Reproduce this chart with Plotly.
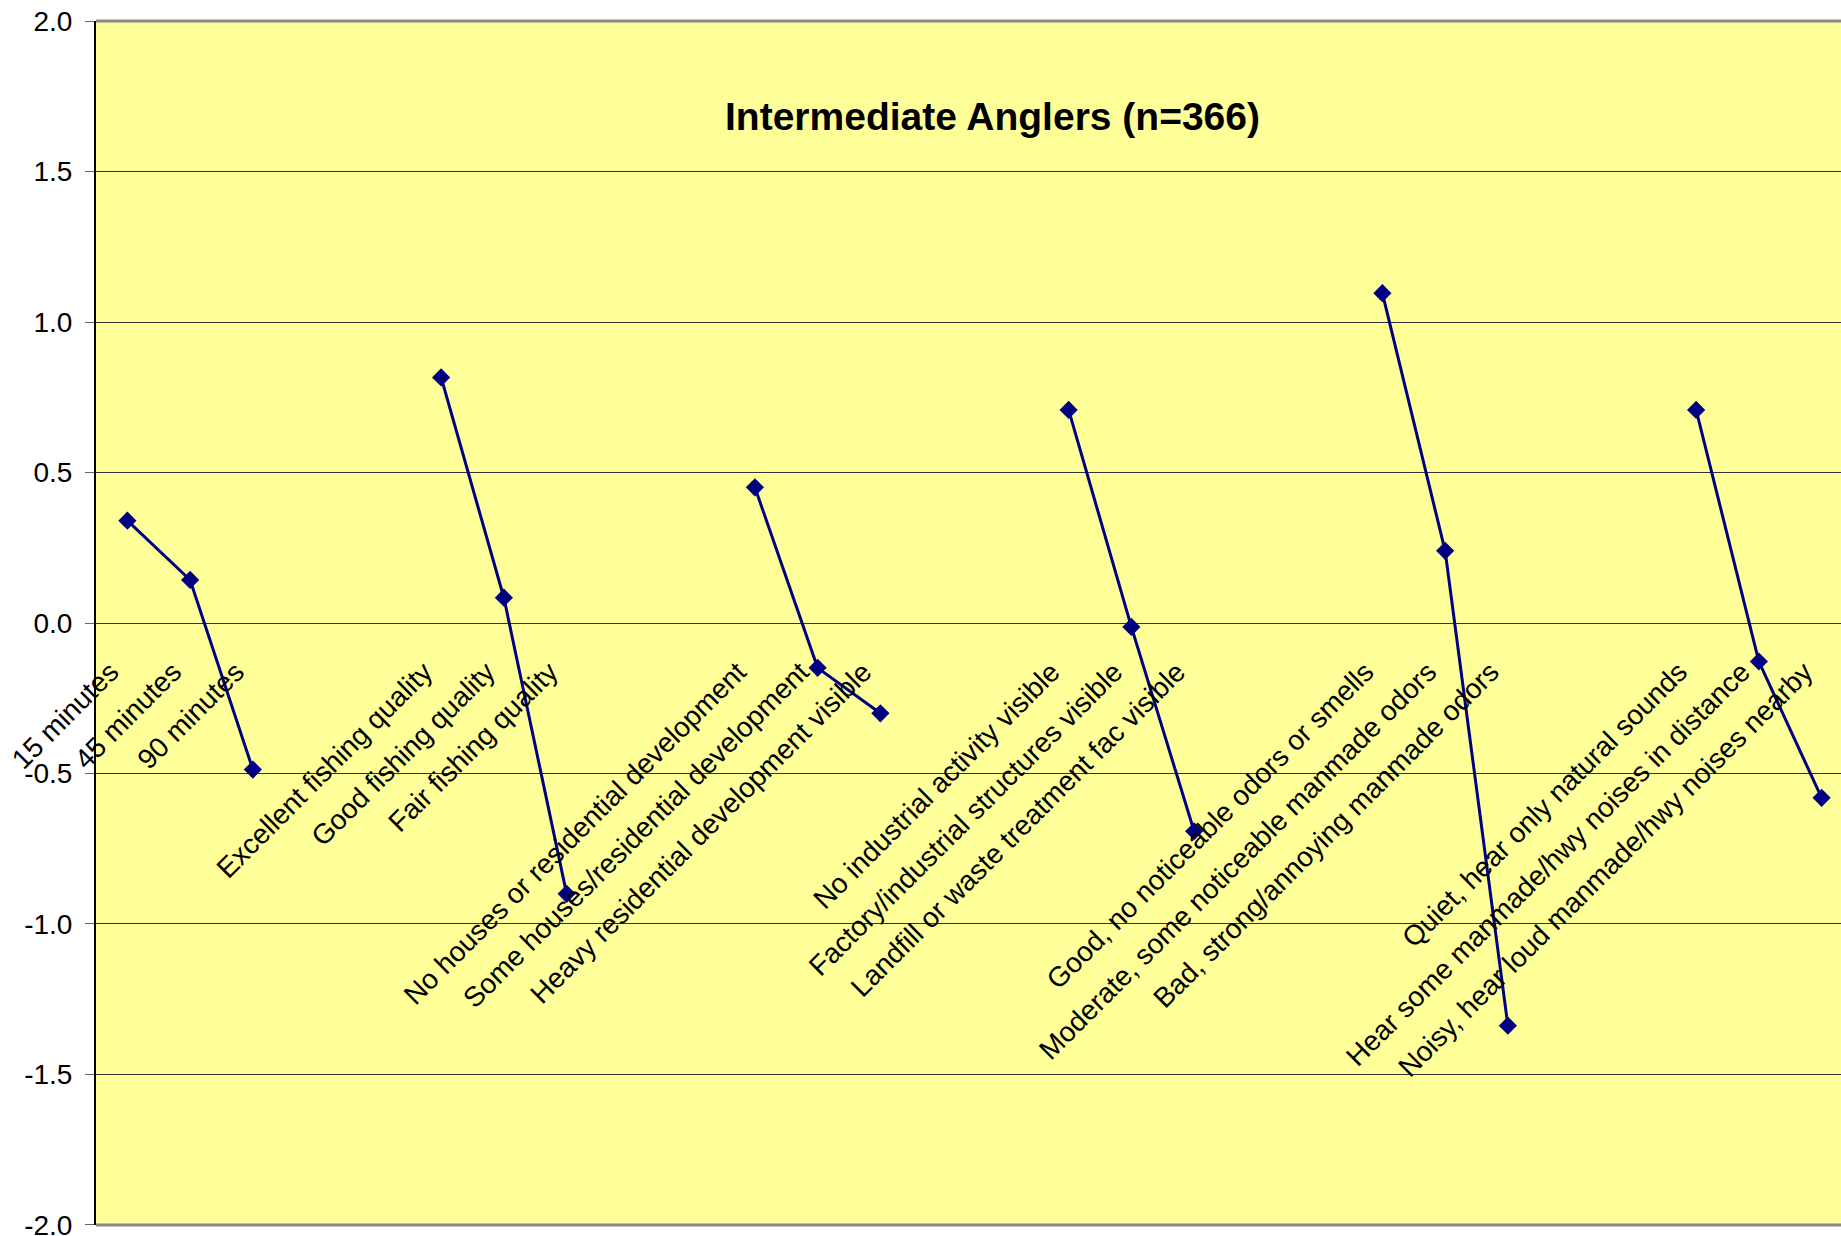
import plotly.graph_objects as go

# category labels along the x axis; None = empty slot between attribute groups
categories = [
    "15 minutes", "45 minutes", "90 minutes", None, None,
    "Excellent fishing quality", "Good fishing quality", "Fair fishing quality", None, None,
    "No houses or residential development", "Some houses/residential development",
    "Heavy residential development visible", None, None,
    "No industrial activity visible", "Factory/industrial structures visible",
    "Landfill or waste treatment fac visible", None, None,
    "Good, no noticeable odors or smells", "Moderate, some noticeable manmade odors",
    "Bad, strong/annoying manmade odors", None, None,
    "Quiet, hear only natural sounds", "Hear some manmade/hwy noises in distance",
    "Noisy, hear loud manmade/hwy noises nearby",
]

# part-worth scores (None = gap)
scores = [
    0.340, 0.143, -0.487, None, None,
    0.816, 0.084, -0.900, None, None,
    0.451, -0.149, -0.300, None, None,
    0.708, -0.013, -0.692, None, None,
    1.096, 0.240, -1.338, None, None,
    0.708, -0.128, -0.581,
]

y_ticks = [-2.0, -1.5, -1.0, -0.5, 0.0, 0.5, 1.0, 1.5, 2.0]
title_text = "Intermediate Anglers (n=366)"

x_idx = list(range(len(categories)))
tick_vals = [i for i, c in enumerate(categories) if c]
tick_text = [c for c in categories if c]

W, H = 1841, 1236
M_L, M_R, M_T, M_B = 96, 0, 21, 11
slot = 62.75  # px per category slot
x_max = -0.5 + (W - M_L - M_R) / slot  # plot runs off the right edge

fig = go.Figure()
fig.add_trace(go.Scatter(
    x=x_idx, y=scores, mode="lines+markers",
    line=dict(color="#000080", width=3),
    marker=dict(symbol="diamond", size=14, color="#000080"),
    connectgaps=False, showlegend=False,
))

fig.update_layout(
    width=W, height=H,
    margin=dict(l=M_L, r=M_R, t=M_T, b=M_B),
    paper_bgcolor="white",
    plot_bgcolor="#FFFF99",
    font=dict(family="Arial, Liberation Sans, sans-serif", color="black", size=28),
    xaxis=dict(
        range=[-0.5, x_max], tickvals=tick_vals, ticktext=tick_text,
        tickangle=-45, showgrid=False, zeroline=False, showline=False,
        ticks="", anchor="free", position=0.5, automargin=False,
        ticklabelstandoff=26, ticklabelshift=-17,
        tickfont=dict(size=28),
    ),
    yaxis=dict(
        range=[-2.0005, 2.0005], tickvals=y_ticks, ticktext=[f"{v:.1f}" for v in y_ticks],
        showgrid=True, gridcolor="#333333", gridwidth=1, zeroline=False,
        showline=True, linecolor="black", linewidth=2,
        ticks="outside", ticklen=9, tickcolor="#666666", tickwidth=1,
        ticklabelstandoff=7, ticklabeloverflow="allow",
        automargin=False, tickfont=dict(size=28),
    ),
    shapes=[
        dict(type="line", xref="paper", yref="paper", x0=0, x1=1, y0=1, y1=1,
             line=dict(color="#888888", width=3)),
        dict(type="line", xref="paper", yref="paper", x0=0, x1=1, y0=0, y1=0,
             line=dict(color="#888888", width=3)),
    ],
    annotations=[
        dict(text=f"<b>{title_text}</b>", xref="paper", yref="paper",
             x=0.514, y=0.921, showarrow=False, xanchor="center", yanchor="middle",
             font=dict(family="Arial, Liberation Sans, sans-serif", size=39)),
    ],
)

# drop the default 8px page margin so the figure sits at the window corner
fig.write_html("out.html", config={"displayModeBar": False},
               post_script="document.body.style.margin='0';")
